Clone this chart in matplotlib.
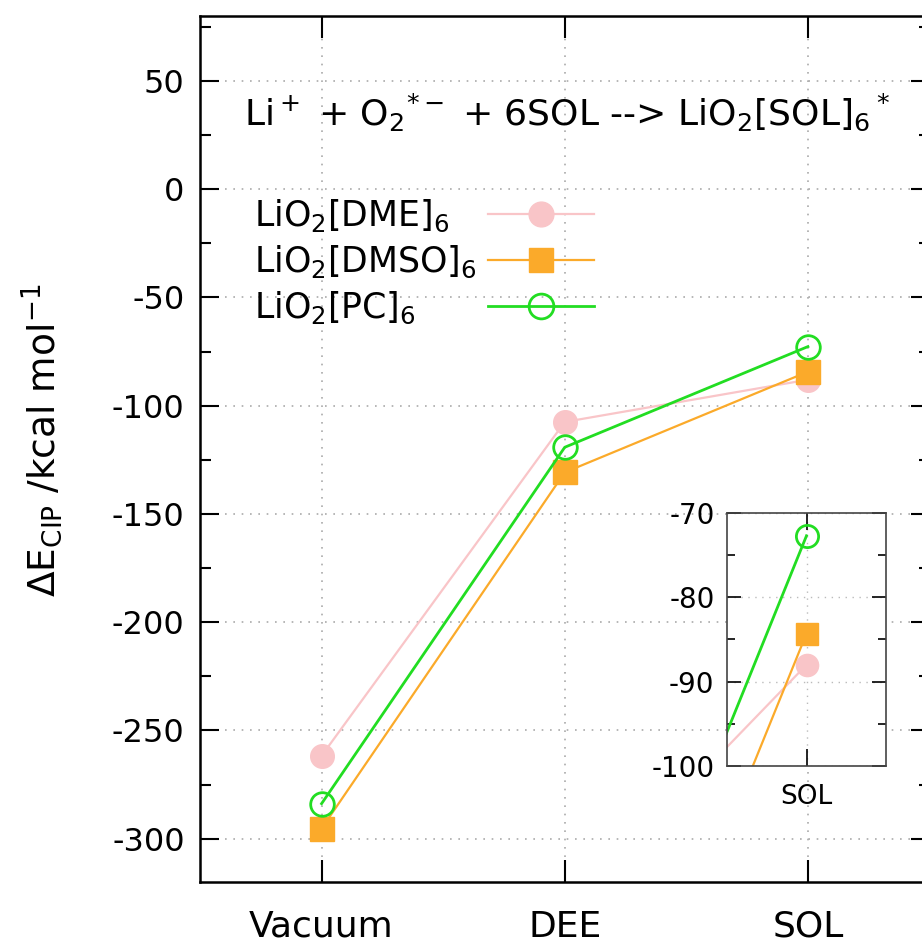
import matplotlib
matplotlib.use("Agg")
import matplotlib.pyplot as plt
from matplotlib.ticker import MultipleLocator

plt.rcParams['font.family'] = ['DejaVu Sans']
plt.rcParams['mathtext.default'] = 'regular'
plt.rcParams['axes.unicode_minus'] = False

# data
categories = ["Vacuum", "DEE", "SOL"]
dme = [-261.7, -107.5, -88.0]
dmso = [-295.3, -130.8, -84.3]
pc = [-283.8, -119.2, -72.7]

labels = [r'LiO$_2$[DME]$_6$', r'LiO$_2$[DMSO]$_6$', r'LiO$_2$[PC]$_6$']
title = r'Li$^+$ + O$_2$$^{*-}$ + 6SOL --> LiO$_2$[SOL]$_6$$^*$'
ylabel = r'$\Delta$E$_{CIP}$ /kcal mol$^{-1}$'

c_dme = '#f9c5c8'
c_dmso = '#fbaa2a'
c_pc = '#22dd22'

W, H = 922, 952
fig = plt.figure(figsize=(W / 100, H / 100), dpi=100)
# axes runs past the right edge, like the cropped original
ax = fig.add_axes([200 / W, (H - 882) / H, 729.5 / W, 866 / H])

x = list(range(len(categories)))


def draw_series(a, ms, lw):
    a.plot(x, dme, color=c_dme, lw=lw, marker='o', ms=ms, mfc=c_dme, mec=c_dme,
           label=labels[0])
    a.plot(x, dmso, color=c_dmso, lw=lw, marker='s', ms=ms, mfc=c_dmso, mec=c_dmso,
           label=labels[1])
    a.plot(x, pc, color=c_pc, lw=lw + 0.4, marker='o', ms=ms, mfc='none', mec=c_pc,
           mew=2, label=labels[2])


draw_series(ax, 17, 1.6)

ax.set_xlim(-0.5, 2.5)
ax.set_ylim(-320, 80)
ax.set_xticks(x)
ax.set_xticklabels(categories, fontsize=26)
ax.set_yticks(range(-300, 51, 50))
ax.yaxis.set_minor_locator(MultipleLocator(25))
ax.tick_params(axis='y', which='major', direction='in', length=14, width=1.5,
               labelsize=23, pad=11, right=True)
ax.tick_params(axis='y', which='minor', direction='in', length=8, width=1.5, right=True)
ax.tick_params(axis='x', which='major', direction='in', length=16, width=1.5,
               pad=20, top=True)
ax.grid(True, which='major', color='#aaaaaa', linestyle=(0, (1, 4)), lw=1.2)
ax.set_axisbelow(True)
for s in ax.spines.values():
    s.set_linewidth(1.8)

ax.set_ylabel(ylabel, fontsize=27)
ax.yaxis.set_label_coords(-0.185, 0.51)

ax.text(1.01, 35.5, title, fontsize=26, ha='center', va='center')

# gnuplot-style key: text left aligned, samples in a column on the right
fs = 25
leg = ax.legend(loc='upper right', bbox_to_anchor=(0.540, 0.790), frameon=False,
                markerfirst=False, fontsize=fs, handlelength=3.05, handletextpad=0.4,
                labelspacing=0.28, borderaxespad=0, borderpad=0, markerscale=1.05)
for t in leg.get_texts():
    t.set_alpha(0)
fig.canvas.draw()
for t, lab in zip(leg.get_texts(), labels):
    bb = t.get_window_extent()
    fig.text(254 / W, bb.y0 / H, lab, fontsize=fs, ha='left', va='bottom')

# inset zoom on SOL
ins = fig.add_axes([727 / W, (H - 766) / H, 159 / W, 253 / H])
draw_series(ins, 16, 1.6)
ins.set_xlim(1.5, 2.5)
ins.set_ylim(-100, -70)
ins.set_xticks([2])
ins.set_xticklabels(["SOL"], fontsize=19)
ins.set_yticks([-100, -90, -80, -70])
ins.yaxis.set_minor_locator(MultipleLocator(5))
ins.tick_params(axis='y', which='major', direction='in', length=10, width=1.2,
                labelsize=20, pad=9, right=True)
ins.tick_params(axis='y', which='minor', direction='in', length=6, width=1.2, right=True)
ins.tick_params(axis='x', direction='in', length=12, width=1.2, pad=13, top=True)
ins.grid(True, which='major', color='#bbbbbb', linestyle=(0, (1, 4)), lw=1.0)
ins.set_axisbelow(True)
for s in ins.spines.values():
    s.set_linewidth(1.2)
    s.set_color('#444444')

fig.savefig("out.png", dpi=100)
